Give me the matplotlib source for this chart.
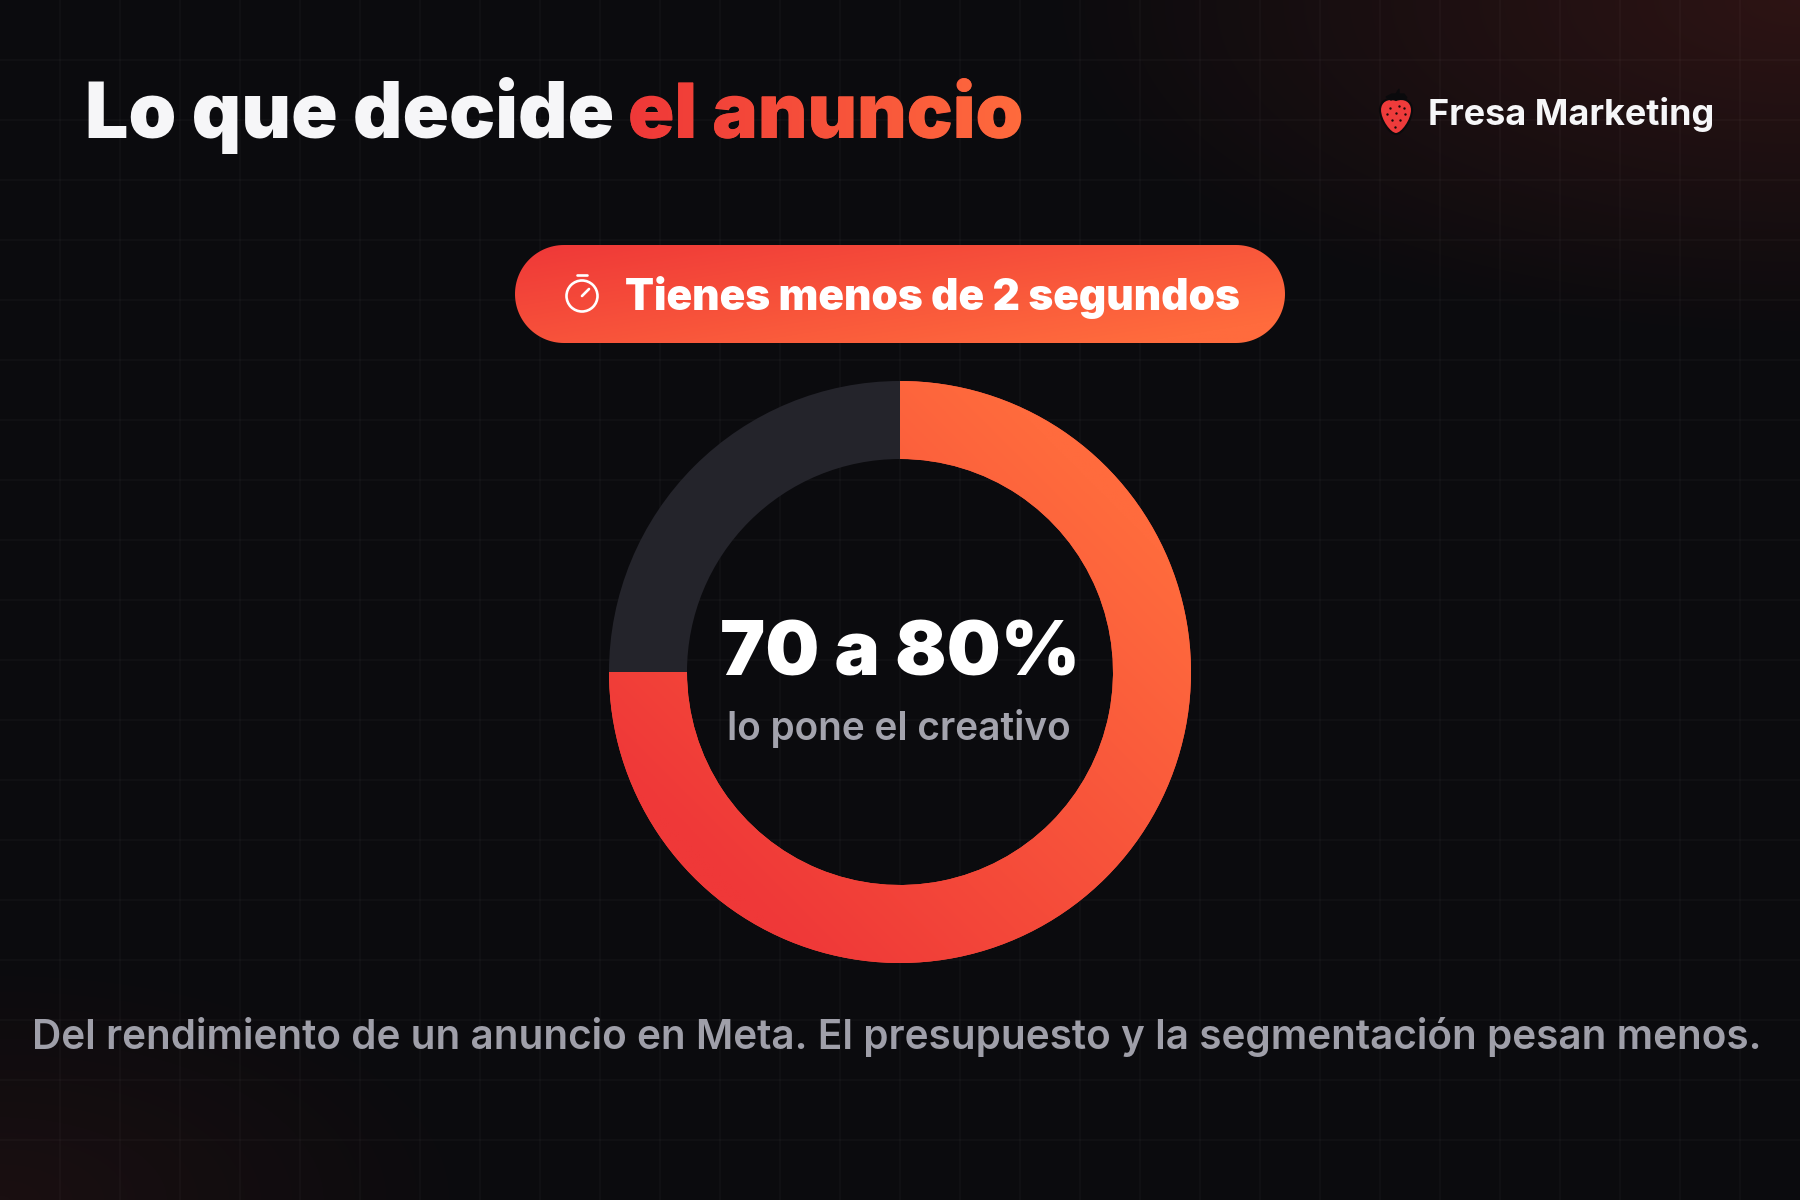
import numpy as np
import matplotlib
matplotlib.use('Agg')
import matplotlib.pyplot as plt
from matplotlib import font_manager as fm
from matplotlib.colors import LinearSegmentedColormap
from matplotlib.patches import Circle, PathPatch, Polygon
from matplotlib.path import Path
from matplotlib.textpath import TextPath
from matplotlib.transforms import Affine2D

# data
share_labels = ['Creativo', 'Resto']
share_values = [75, 25]
share_colors = ['#f9503b', '#24242b']
title_white = 'Lo que decide'
title_red = 'el anuncio'
brand = 'Fresa Marketing'
pill_text = 'Tienes menos de 2 segundos'
center_big = '70 a 80%'
center_small = 'lo pone el creativo'
footer = 'Del rendimiento de un anuncio en Meta. El presupuesto y la segmentación pesan menos.'

W, H = 1800, 1200
BG = np.array([11, 11, 14]) / 255
red_orange = LinearSegmentedColormap.from_list('ro', ['#ef3838', '#ff6b3d'])

plt.rcParams['font.family'] = ['Inter', 'DejaVu Sans']

fig = plt.figure(figsize=(18, 12), dpi=100)
ax = fig.add_axes([0, 0, 1, 1])
ax.axis('off')

# background with the two soft glows in the corners
yy, xx = np.mgrid[0:H, 0:W]
glow1 = np.clip(1 - np.hypot((xx - W) / 760, yy / 340), 0, 1)
glow2 = np.clip(1 - np.hypot(xx / 480, (yy - H) / 240), 0, 1)
bg = np.ones((H, W, 3)) * BG
bg = bg + glow1[..., None] * np.array([0.135, 0.034, 0.024]) + glow2[..., None] * np.array([0.06, 0.016, 0.012])
ax.imshow(np.clip(bg, 0, 1), extent=(0, W, H, 0), aspect='auto', zorder=0)

for gx in range(60, W, 60):
    ax.axvline(gx, color='white', alpha=0.028, lw=1.2, zorder=1)
for gy in range(60, H, 60):
    ax.axhline(gy, color='white', alpha=0.028, lw=1.2, zorder=1)


def px_text(x, y, s, size, color, weight='bold', ha='left'):
    return ax.text(x, y, s, fontsize=size * 0.72, color=color, fontweight=weight,
                   ha=ha, va='baseline', zorder=6)


# title
px_text(85, 138, title_white, 76.7, '#f6f6f8', 'black')
red_x = 628
px_text(red_x, 138, title_red, 76.5, '#f9503b', 'black')
fp = fm.FontProperties(family='Inter', weight='black')
tp = TextPath((0, 0), title_red, size=76.5, prop=fp)
clip = PathPatch(tp, transform=Affine2D().scale(1, -1).translate(red_x, 138) + ax.transData,
                 fc='none', ec='none')
ax.add_patch(clip)
grad = np.linspace(0, 1, 256).reshape(1, -1)
im = ax.imshow(grad, extent=(red_x, 1025, 160, 70), aspect='auto', cmap=red_orange, zorder=7)
im.set_clip_path(clip)

# brand with the strawberry
px_text(1428, 125, brand, 36, '#f6f6f8', 'bold')
berry = Path(
    [(1396, 100), (1404, 97), (1412, 101), (1412, 110), (1412, 120), (1402, 134), (1396, 134),
     (1390, 134), (1380, 120), (1380, 110), (1380, 101), (1388, 97), (1396, 100), (1396, 100)],
    [Path.MOVETO, Path.CURVE4, Path.CURVE4, Path.CURVE4, Path.CURVE4, Path.CURVE4, Path.CURVE4,
     Path.CURVE4, Path.CURVE4, Path.CURVE4, Path.CURVE4, Path.CURVE4, Path.CURVE4, Path.CLOSEPOLY])
ax.add_patch(PathPatch(berry, fc='#ee3b3b', ec='#0a0a0c', lw=1.5, zorder=6))
leaf_x = [1386, 1392, 1396, 1399, 1399, 1404, 1407, 1400, 1396, 1391, 1386]
leaf_y = [97, 94, 94, 89, 94, 94, 98, 99, 98, 100, 97]
ax.fill(leaf_x, leaf_y, color='#0a0a0c', zorder=7)
seed_x = [1390, 1399, 1404, 1387, 1396, 1405, 1392, 1400, 1395]
seed_y = [108, 106, 108, 114, 113, 114, 120, 120, 127]
ax.scatter(seed_x, seed_y, s=3, color='#1a0a0a', zorder=7, linewidths=0)

# pill with the timer
t = np.linspace(0, np.pi, 60)
pill_x = np.r_[1236 + 49 * np.sin(t), 564 - 49 * np.sin(t)]
pill_y = np.r_[294 - 49 * np.cos(t), 294 + 49 * np.cos(t)]
pill = Polygon(np.c_[pill_x, pill_y], closed=True, fc='none', ec='none', zorder=3)
ax.add_patch(pill)
py, px = np.mgrid[0:1:100j, 0:1:400j]
pim = ax.imshow(np.clip(0.62 * px + 0.5 * py, 0, 1), extent=(515, 1285, 343, 245), aspect='auto',
                cmap=red_orange, vmin=0, vmax=1, zorder=3)
pim.set_clip_path(pill)
ax.add_patch(Circle((582, 296), 15.5, fc='none', ec='white', lw=1.9, zorder=6))
ax.plot([577, 587], [274.5, 274.5], color='white', lw=1.9, solid_capstyle='round', zorder=6)
ax.plot([582, 589], [296, 289], color='white', lw=1.9, solid_capstyle='round', zorder=6)
px_text(625, 310, pill_text, 42.3, 'white', 'black')

ax.set_xlim(0, W)
ax.set_ylim(H, 0)

# donut in its own axes so pie gets its own scale
R = 291
span = 2 * R * 1.25
ax2 = fig.add_axes([(900 - span / 2) / W, 1 - (672 + span / 2) / H, span / W, span / H], zorder=2)
wedges, _ = ax2.pie(share_values, colors=share_colors, startangle=90, counterclock=False,
                    radius=1, wedgeprops=dict(width=(291 - 213) / 291, lw=0))
gy, gx = np.mgrid[1:-1:300j, -1:1:300j]
dim = ax2.imshow(np.clip(0.5 + (gx + gy) * 0.38, 0, 1), extent=(-1, 1, -1, 1), origin='upper',
                 cmap=red_orange, vmin=0, vmax=1, zorder=2, aspect='equal')
dim.set_clip_path(wedges[0])
ax2.set_xlim(-1.25, 1.25)
ax2.set_ylim(-1.25, 1.25)
ax2.patch.set_alpha(0)

# centre + footer text on a top layer
ax3 = fig.add_axes([0, 0, 1, 1], zorder=3)
ax3.set_xlim(0, W)
ax3.set_ylim(H, 0)
ax3.axis('off')
ax3.text(900, 675, center_big, fontsize=76 * 0.72, color='white', fontweight='black', ha='center', va='baseline')
ax3.text(899, 740, center_small, fontsize=38.8 * 0.72, color='#a3a3ad', fontweight='semibold', ha='center', va='baseline')
ax3.text(897, 1049, footer, fontsize=40.5 * 0.72, color='#9f9fa9', fontweight='semibold', ha='center', va='baseline')

fig.savefig('out.png', dpi=100)
